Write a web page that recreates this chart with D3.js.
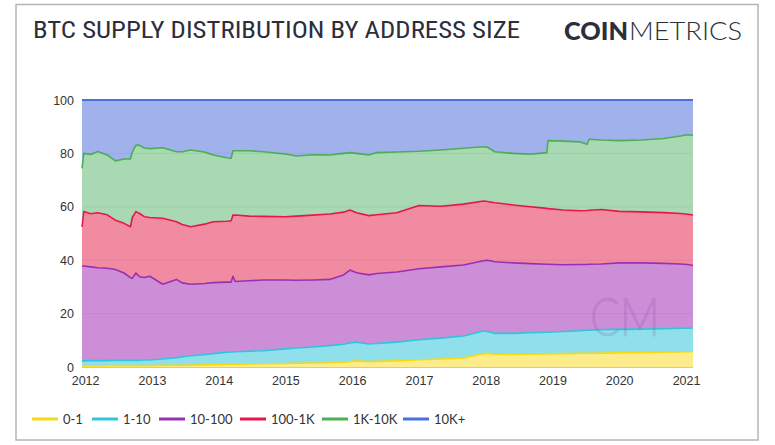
<!DOCTYPE html>
<html><head><meta charset="utf-8">
<script src="https://cdn.jsdelivr.net/npm/d3@7"></script>
<style>
html,body{margin:0;padding:0;background:#fff;}
svg{display:block;}
</style></head>
<body>
<svg id="chart" width="775" height="445"></svg>
<script>
const dates = ["2011-12-15","2011-12-25","2012-02-01","2012-03-10","2012-05-01","2012-06-15","2012-08-01","2012-09-05","2012-09-15","2012-10-05","2012-10-25","2012-11-20","2012-12-20","2013-03-01","2013-05-15","2013-06-15","2013-08-01","2013-10-15","2013-12-01","2014-02-15","2014-03-10","2014-03-20","2014-04-01","2014-06-15","2014-09-01","2015-01-01","2015-03-01","2015-06-01","2015-09-01","2015-11-15","2015-12-20","2016-01-25","2016-04-01","2016-05-15","2016-09-01","2017-01-01","2017-05-01","2017-09-01","2017-12-20","2018-01-10","2018-02-20","2018-06-01","2018-09-01","2018-12-01","2018-12-08","2019-03-01","2019-06-01","2019-07-10","2019-07-20","2019-09-25","2020-01-01","2020-05-01","2020-09-01","2020-12-01","2021-01-10","2021-02-08"];

const s0_1 =    [0.4,0.4,0.4,0.4,0.5,0.5,0.5,0.5,0.5,0.5,0.5,0.5,0.5,0.6,0.6,0.6,0.7,0.8,0.9,1.0,1.0,1.0,1.0,1.1,1.2,1.3,1.4,1.5,1.6,1.8,2.0,2.3,2.0,2.1,2.3,2.7,3.0,3.4,5.0,5.1,4.8,4.7,4.8,4.9,4.9,5.0,5.1,5.1,5.1,5.2,5.3,5.4,5.5,5.6,5.7,5.7];
const s1_10 =   [1.9,1.9,2.0,2.0,1.9,2.0,2.0,2.0,2.0,2.0,2.0,2.1,2.1,2.4,2.9,3.2,3.5,3.8,4.1,4.5,4.6,4.6,4.7,4.8,4.9,5.5,5.7,6.0,6.4,6.7,7.0,7.0,6.6,6.7,7.0,7.5,7.8,8.2,8.5,8.2,7.8,7.9,8.0,8.1,8.1,8.3,8.5,8.7,8.7,8.8,8.8,8.8,8.8,8.9,8.8,8.9];
const s10_100 = [35.5,35.5,35.1,34.8,34.6,34.0,32.7,31.0,30.7,32.7,31.3,30.9,31.4,28.0,29.3,27.7,26.8,26.7,26.6,26.3,26.2,28.4,26.3,26.4,26.5,25.8,25.4,25.1,24.8,26.0,27.3,26.0,25.9,26.2,26.3,26.6,26.7,26.6,26.3,26.7,26.8,26.4,25.9,25.5,25.5,25.0,24.8,24.6,24.7,24.6,24.9,24.8,24.5,24.1,23.9,23.4];
const s100_1K = [14.7,20.4,19.9,20.6,20.0,18.5,18.6,19.0,22.8,23.0,23.7,22.8,22.0,24.7,21.6,21.9,21.5,22.2,22.8,22.8,23.0,22.9,24.9,24.2,23.8,23.7,24.0,24.3,24.5,23.5,22.5,22.5,22.2,22.0,22.2,23.7,22.7,22.8,22.4,22.0,22.1,21.7,21.3,20.9,20.8,20.5,20.1,20.2,20.2,20.4,19.3,19.1,19.0,18.9,18.8,18.9];
const s1K_10K = [21.9,21.8,22.2,22.9,22.4,22.2,24.1,25.4,24.5,24.9,25.5,25.7,25.8,26.4,26.2,27.2,28.8,27.0,25.0,23.8,23.4,24.1,24.1,24.5,24.2,23.5,22.5,22.6,22.1,22.0,21.5,22.2,22.7,23.3,22.7,20.3,21.1,20.9,20.3,20.3,19.1,19.3,19.7,20.9,25.5,25.8,25.8,24.8,26.6,26.0,26.5,26.9,27.8,29.0,29.8,29.9];
const s10Kplus= [25.6,20.0,20.4,19.3,20.6,22.8,22.1,22.1,19.5,16.9,17.0,18.0,18.2,17.9,19.4,19.4,18.7,19.5,20.6,21.6,21.8,19.0,19.0,19.0,19.4,20.2,21.0,20.5,20.6,20.0,19.7,20.0,20.6,19.7,19.5,19.2,18.7,18.1,17.5,17.7,19.4,20.0,20.3,19.7,15.2,15.4,15.7,16.6,14.7,15.0,15.2,15.0,14.4,13.5,13.0,13.2];

const seriesNames = ["0-1","1-10","10-100","100-1K","1K-10K","10K+"];
const lineColors = ["#f7d914","#2fc6dd","#9a2fb3","#e8164b","#4cae55","#4a6fe0"];
const fillColors = ["#fdec8c","#8fe0ea","#cb8ed7","#f18ba1","#a8d9b2","#a1b1eb"];
const yTicks = [0,20,40,60,80,100];
const xTickYears = [2012,2013,2014,2015,2016,2017,2018,2019,2020,2021];
const title = "BTC SUPPLY DISTRIBUTION BY ADDRESS SIZE";

const parse = d3.timeParse("%Y-%m-%d");
const seriesArrays = [s0_1, s1_10, s10_100, s100_1K, s1K_10K, s10Kplus];
const rows = dates.map((d,i) => {
  const r = {date: parse(d)};
  seriesNames.forEach((n,k) => r[n] = seriesArrays[k][i]);
  return r;
});

const svg = d3.select("#chart");

// frame
svg.append("rect").attr("x",16).attr("y",4.5).attr("width",742).attr("height",435.5)
  .attr("fill","#fff").attr("stroke","#b4b4bc").attr("stroke-width",1.5);

// title
svg.append("text").attr("x",33).attr("y",38).text(title)
  .attr("font-family","'Liberation Sans Narrow','Roboto Condensed','DejaVu Sans Condensed',sans-serif")
  .attr("font-size",23.5).attr("fill","#2b2e3b")
  .attr("textLength",487).attr("lengthAdjust","spacingAndGlyphs");

// logo
const logo = svg.append("text").attr("y",40).attr("font-family","Lato,'Open Sans',sans-serif").attr("font-size",25.5).attr("fill","#2b2e3b");
logo.append("tspan").attr("x",564).attr("font-weight",900).text("COIN").attr("textLength",64).attr("lengthAdjust","spacingAndGlyphs");
logo.append("tspan").attr("x",629).attr("font-weight",300).text("METRICS").attr("textLength",113).attr("lengthAdjust","spacingAndGlyphs");

const x = d3.scaleTime().domain([parse("2011-12-15"), parse("2021-02-08")]).range([82, 693]);
const y = d3.scaleLinear().domain([0,100]).range([367, 100]);

const stacked = d3.stack().keys(seriesNames)(rows);

const area = d3.area().x(d => x(d.data.date)).y0(d => y(d[0])).y1(d => y(d[1]));
const line = d3.line().x(d => x(d.data.date)).y(d => y(d[1]));

const g = svg.append("g");
g.selectAll("path.area").data(stacked).join("path").attr("class","area")
  .attr("d", area).attr("fill",(d,i)=>fillColors[i]).attr("stroke","none");

// watermark
svg.append("text").attr("x",625).attr("y",336).attr("text-anchor","middle")
  .attr("font-family","Lato,'Open Sans',sans-serif").attr("font-weight",300).attr("font-size",54)
  .attr("fill","#8a4d9c").attr("fill-opacity",0.16)
  .attr("stroke","#8a4d9c").attr("stroke-opacity",0.08).attr("stroke-width",1.5)
  .attr("textLength",70).attr("lengthAdjust","spacingAndGlyphs").text("CM");

// grid
svg.append("g").selectAll("line").data(yTicks.filter(t=>t>0 && t<100)).join("line")
  .attr("x1",82).attr("x2",693).attr("y1",d=>y(d)).attr("y2",d=>y(d))
  .attr("stroke","#000").attr("stroke-opacity",0.05).attr("stroke-width",1);

g.selectAll("path.line").data(stacked).join("path").attr("class","line")
  .attr("d", line).attr("fill","none").attr("stroke",(d,i)=>lineColors[i])
  .attr("stroke-width",(d,i)=> i===5 ? 2 : 1.6).attr("stroke-linejoin","round");

// baseline
svg.append("line").attr("x1",82).attr("x2",693).attr("y1",367.5).attr("y2",367.5).attr("stroke","#c8c8c8").attr("stroke-width",1);

// axes
const ya = svg.append("g").attr("transform","translate(82,0)")
  .call(d3.axisLeft(y).tickValues(yTicks).tickSize(0).tickPadding(8));
ya.select(".domain").remove();
ya.selectAll("text").attr("font-family","'Liberation Sans',Arial,sans-serif").attr("font-size",12.5).attr("fill","#333");

const xa = svg.append("g").attr("transform","translate(0,367)")
  .call(d3.axisBottom(x).tickValues(xTickYears.map(yv => new Date(yv,0,1))).tickFormat(d3.timeFormat("%Y")).tickSize(0).tickPadding(9));
xa.select(".domain").remove();
xa.selectAll("text").attr("font-family","'Liberation Sans',Arial,sans-serif").attr("font-size",12.5).attr("fill","#333");

// legend
const legendX = [32, 92, 159, 240, 322, 403];
const lg = svg.append("g");
seriesNames.forEach((n,i) => {
  lg.append("line").attr("x1",legendX[i]).attr("x2",legendX[i]+26).attr("y1",419).attr("y2",419)
    .attr("stroke",lineColors[i]).attr("stroke-width",3);
  lg.append("text").attr("x",legendX[i]+31).attr("y",423.5).text(n)
    .attr("font-family","Lato,'Open Sans',sans-serif").attr("font-size",13).attr("fill","#333");
});
</script>
</body></html>
